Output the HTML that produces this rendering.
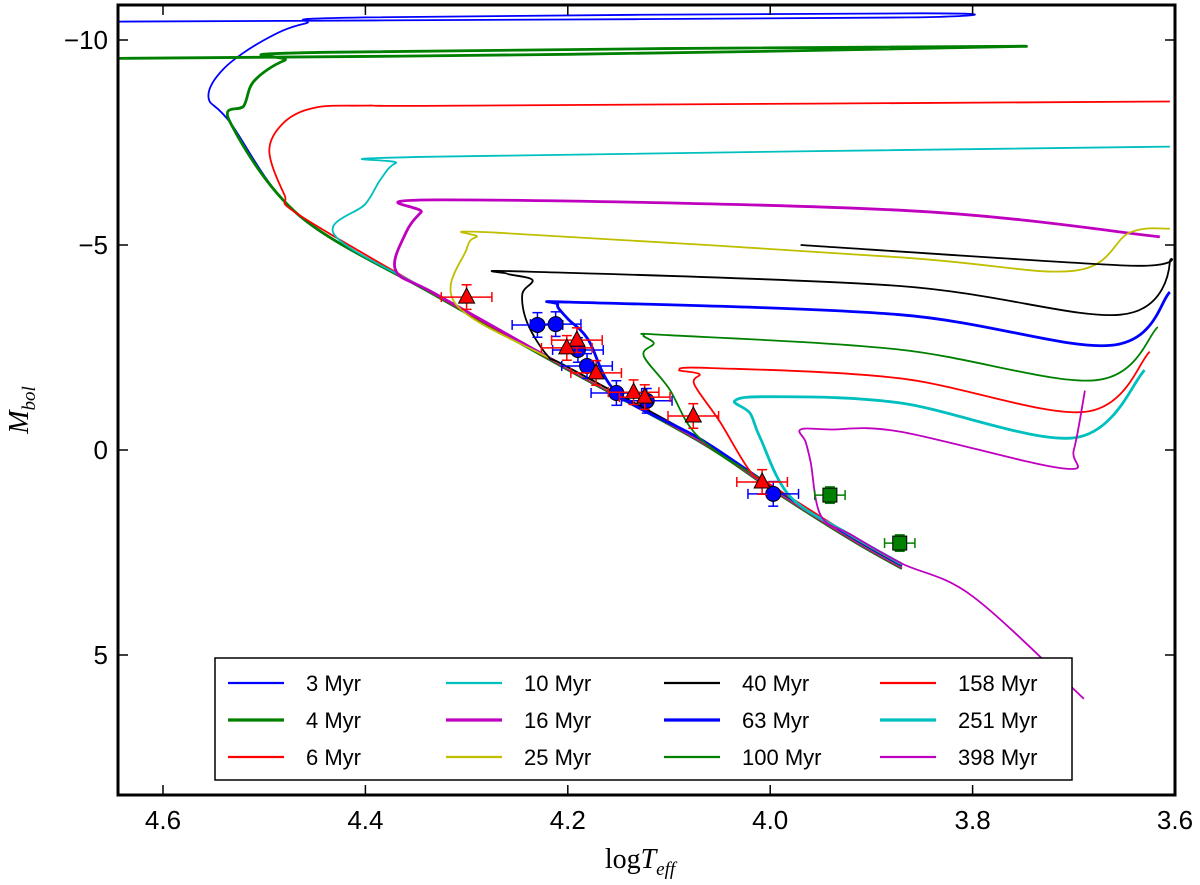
<!DOCTYPE html>
<html><head><meta charset="utf-8"><style>
body{margin:0;background:#fff;}
svg{display:block;font-family:"Liberation Sans",sans-serif;}
</style></head><body>
<svg id="chart" width="1200" height="885"></svg>
<script>
const xTicks=[4.6,4.4,4.2,4.0,3.8,3.6];
const xTickLabels=["4.6","4.4","4.2","4.0","3.8","3.6"];
const yTicks=[-10,-5,0,5];
const yTickLabels=["\u221210","\u22125","0","5"];
const msT=[3.69,3.80,3.87,3.92,4.00,4.07,4.20,4.33,4.465,4.534,4.555];
const msM=[6.2,3.7,2.9,2.2,0.95,-0.2,-1.95,-3.75,-5.7,-8.0,-8.6];
const isoNames=["3 Myr","4 Myr","6 Myr","10 Myr","16 Myr","25 Myr","40 Myr","63 Myr","100 Myr","158 Myr","251 Myr","398 Myr"];
const isoColors=["#0000ff","#008000","#ff0000","#00bfbf","#bf00bf","#bfbf00","#000000","#0000ff","#008000","#ff0000","#00bfbf","#bf00bf"];
const isoWidth=[1.8,2.8,1.8,1.8,2.8,1.8,1.8,2.8,1.8,1.8,2.8,1.8];
const isoOff=[4.555,4.534,4.48,4.43,4.37,4.31,4.22,4.15,4.07,4.02,3.98,3.95];
const isoMin=[3.87,3.87,3.87,3.87,3.87,3.87,3.87,3.87,3.87,3.87,3.87,3.69];
const isoHookT=[
[4.54,4.50,4.46,4.40,3.85,3.86,4.2,4.645],
[4.52,4.51,4.48,4.44,3.75,4.2,4.645],
[4.495,4.48,4.45,4.40,4.30,3.605],
[4.40,4.385,4.37,4.34,3.605],
[4.36,4.345,4.33,3.872,3.615],
[4.30,4.29,4.27,3.872,3.70,3.645,3.605],
[4.24,4.245,4.235,4.26,4.24,3.872,3.654,3.605,3.65,3.97],
[4.18,4.20,4.21,4.19,3.872,3.664,3.605],
[4.10,4.125,4.115,4.125,4.10,3.872,3.679,3.617],
[4.05,4.075,4.07,4.09,4.06,3.872,3.689,3.625],
[4.01,4.02,4.035,4.0,3.872,3.699,3.63],
[3.96,3.965,3.97,3.94,3.872,3.711,3.70,3.689]];
const isoHookM=[
[-9.3,-10.0,-10.4,-10.55,-10.65,-10.55,-10.5,-10.45],
[-8.4,-9.0,-9.5,-9.7,-9.85,-9.65,-9.55],
[-7.3,-8.0,-8.35,-8.4,-8.4,-8.5],
[-6.0,-6.6,-7.0,-7.15,-7.4],
[-5.3,-5.8,-6.1,-5.85,-5.2],
[-4.9,-5.2,-5.3,-4.7,-4.37,-5.3,-5.4],
[-3.1,-3.8,-4.15,-4.3,-4.35,-4.0,-3.3,-4.6,-4.5,-5.0],
[-2.7,-3.2,-3.55,-3.6,-3.3,-2.55,-3.85],
[-1.5,-2.3,-2.6,-2.8,-2.8,-2.45,-1.7,-3.0],
[-0.7,-1.6,-1.85,-1.95,-2.0,-1.75,-0.93,-2.4],
[-0.3,-0.9,-1.2,-1.3,-1.15,-0.3,-1.95],
[0.3,-0.2,-0.5,-0.5,-0.45,0.45,0.0,-1.45]];
const triT=[4.30,4.191,4.201,4.172,4.135,4.124,4.076,4.008];
const triM=[-3.73,-2.68,-2.49,-1.88,-1.41,-1.29,-0.83,0.78];
const circT=[4.23,4.212,4.19,4.181,4.152,4.122,3.997];
const circM=[-3.05,-3.07,-2.44,-2.05,-1.39,-1.2,1.07];
const sqT=[3.941,3.872];
const sqM=[1.1,2.27];

const L=118,R=1175,T=5,B=795;
function X(t){return 163+(4.6-t)*1012;}
function Y(m){return 450+m*41;}
const svg=document.getElementById('chart');
const NS="http://www.w3.org/2000/svg";
function mk(tag,attrs,parent){const e=document.createElementNS(NS,tag);for(const k in attrs)e.setAttribute(k,attrs[k]);(parent||svg).appendChild(e);return e;}
const clip=mk('clipPath',{id:'pc'});mk('rect',{x:L,y:T,width:R-L,height:B-T},clip);
const plot=mk('g',{'clip-path':'url(#pc)'});


function msInterp(t){for(let i=0;i<msT.length-1;i++){if(t>=msT[i]&&t<=msT[i+1]){const f=(t-msT[i])/(msT[i+1]-msT[i]);return msM[i]+f*(msM[i+1]-msM[i]);}}return msM[msM.length-1];}
function smooth(P){
  let d='M'+P[0][0].toFixed(1)+','+P[0][1].toFixed(1);
  for(let i=0;i<P.length-1;i++){
    const p0=P[i-1]||P[i],p1=P[i],p2=P[i+1],p3=P[i+2]||P[i+1];
    const c1=[p1[0]+(p2[0]-p0[0])/6,p1[1]+(p2[1]-p0[1])/6];
    const c2=[p2[0]-(p3[0]-p1[0])/6,p2[1]-(p3[1]-p1[1])/6];
    d+=' C'+c1[0].toFixed(1)+','+c1[1].toFixed(1)+' '+c2[0].toFixed(1)+','+c2[1].toFixed(1)+' '+p2[0].toFixed(1)+','+p2[1].toFixed(1);
  }
  return d;
}
for(let k=0;k<isoNames.length;k++){
  const pts=[];
  const off=k*0.012;
  pts.push([isoMin[k],msInterp(isoMin[k])-off]);
  for(let i=0;i<msT.length;i++){if(msT[i]>isoMin[k]&&msT[i]<isoOff[k])pts.push([msT[i],msM[i]-off]);}
  pts.push([isoOff[k],msInterp(isoOff[k])-off]);
  for(let i=0;i<isoHookT[k].length;i++)pts.push([isoHookT[k][i],isoHookM[k][i]]);
  const P=pts.map(p=>[X(p[0]),Y(p[1])]).filter((p,i,a)=>i==0||Math.hypot(p[0]-a[i-1][0],p[1]-a[i-1][1])>0.5);
  const p=mk('path',{d:smooth(P),fill:'none',stroke:isoColors[k],'stroke-width':isoWidth[k],'stroke-linejoin':'round'},plot);
  
  
}
function errbar(x,y,xe,ye,c,g){
  mk('line',{x1:X(x+xe),x2:X(x-xe),y1:Y(y),y2:Y(y),stroke:c,'stroke-width':1.5},g);
  mk('line',{x1:X(x),x2:X(x),y1:Y(y-ye),y2:Y(y+ye),stroke:c,'stroke-width':1.5},g);
  [X(x+xe),X(x-xe)].forEach(v=>mk('line',{x1:v,x2:v,y1:Y(y)-5,y2:Y(y)+5,stroke:c,'stroke-width':1.5},g));
  [Y(y-ye),Y(y+ye)].forEach(v=>mk('line',{x1:X(x)-5,x2:X(x)+5,y1:v,y2:v,stroke:c,'stroke-width':1.5},g));
}
for(let i=0;i<circT.length;i++){
  const g=mk('g',{},plot);
  
  
  errbar(circT[i],circM[i],0.025,0.3,'#0000ff',g);
  mk('circle',{cx:X(circT[i]),cy:Y(circM[i]),r:7.5,fill:'#0000ff',stroke:'#000','stroke-width':1},g);
}
for(let i=0;i<triT.length;i++){
  const g=mk('g',{},plot);
  
  
  errbar(triT[i],triM[i],0.025,0.3,'#ff0000',g);
  const x=X(triT[i]),y=Y(triM[i]);
  mk('polygon',{points:`${x},${y-9} ${x-8},${y+6} ${x+8},${y+6}`,fill:'#ff0000',stroke:'#000','stroke-width':1},g);
}
for(let i=0;i<sqT.length;i++){
  const g=mk('g',{},plot);
  
  
  errbar(sqT[i],sqM[i],0.015,0.2,'#008000',g);
  mk('rect',{x:X(sqT[i])-7,y:Y(sqM[i])-7,width:14,height:14,fill:'#008000',stroke:'#000','stroke-width':1},g);
}
const fr=mk('rect',{x:L,y:T,width:R-L,height:B-T,fill:'none',stroke:'#000','stroke-width':3});


for(let i=0;i<xTicks.length;i++){
  const x=X(xTicks[i]);
  mk('line',{x1:x,x2:x,y1:B,y2:B-10,stroke:'#000','stroke-width':1.5});
  mk('line',{x1:x,x2:x,y1:T,y2:T+10,stroke:'#000','stroke-width':1.5});
  const t=mk('text',{x:x,y:B+34,'font-size':26,'text-anchor':'middle'});t.textContent=xTickLabels[i];
  
  
}
for(let i=0;i<yTicks.length;i++){
  const y=Y(yTicks[i]);
  mk('line',{x1:L,x2:L+10,y1:y,y2:y,stroke:'#000','stroke-width':1.5});
  mk('line',{x1:R,x2:R-10,y1:y,y2:y,stroke:'#000','stroke-width':1.5});
  const t=mk('text',{x:L-10,y:y+9,'font-size':26,'text-anchor':'end'});t.textContent=yTickLabels[i];
  
  
}
const xl=mk('text',{x:640,y:868,'font-size':28,'text-anchor':'middle','font-family':'Liberation Serif, serif'});
xl.innerHTML='log<tspan font-style="italic">T</tspan><tspan font-style="italic" font-size="19" dy="7">eff</tspan>';


const yl=mk('text',{x:0,y:0,'font-size':28,'text-anchor':'middle','font-family':'Liberation Serif, serif','font-style':'italic',transform:'translate(28,410) rotate(-90)'});
yl.innerHTML='M<tspan font-size="19" dy="7">bol</tspan>';


const lg=mk('g',{});


mk('rect',{x:215,y:658,width:857,height:122,fill:'#fff',stroke:'#000','stroke-width':1.5},lg);
const colX=[228,446,664,880],rowY=[683,720,757];
for(let k=0;k<isoNames.length;k++){
  const c=Math.floor(k/3),r=k%3;
  const e=mk('g',{},lg);
  
  
  mk('line',{x1:colX[c],x2:colX[c]+56,y1:rowY[r],y2:rowY[r],stroke:isoColors[k],'stroke-width':isoWidth[k]+0.4},e);
  const t=mk('text',{x:colX[c]+78,y:rowY[r]+8,'font-size':22},e);t.textContent=isoNames[k];
}
</script>
</body></html>
